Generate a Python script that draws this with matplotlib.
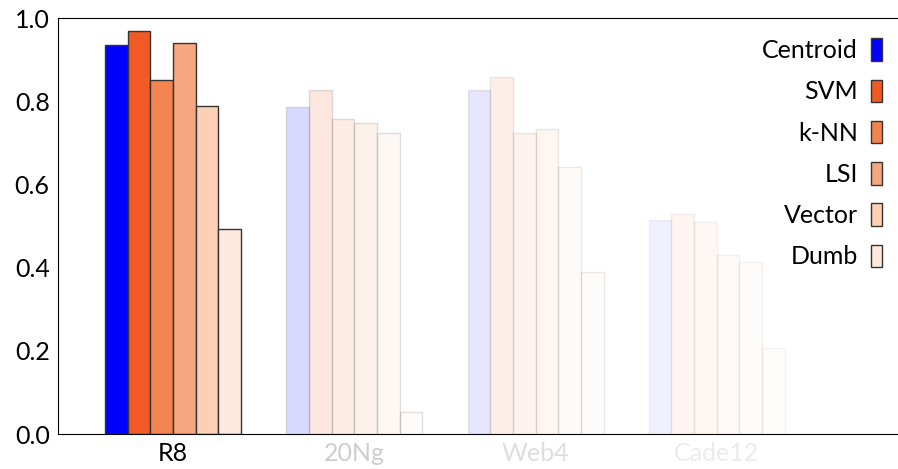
import numpy as np
import matplotlib
matplotlib.use('Agg')
import matplotlib.pyplot as plt

plt.rcParams['font.family'] = ['Lato', 'DejaVu Sans']

datasets = ['R8', '20Ng', 'Web4', 'Cade12']
methods = ['Centroid', 'SVM', 'k-NN', 'LSI', 'Vector', 'Dumb']
centroid = [0.935, 0.787, 0.826, 0.514]
svm = [0.969, 0.828, 0.857, 0.528]
knn = [0.851, 0.758, 0.724, 0.510]
lsi = [0.940, 0.748, 0.734, 0.431]
vector = [0.788, 0.723, 0.643, 0.413]
dumb = [0.494, 0.052, 0.389, 0.207]
colors = ['#0000ff', '#f15a24', '#f4844f', '#f6a77f', '#fdd0b6', '#feeadc']
group_alpha = [1.0, 0.15, 0.1, 0.06]

values = [centroid, svm, knn, lsi, vector, dumb]

fig = plt.figure(figsize=(8.98, 4.69), dpi=100)
ax = fig.add_axes([0.0646, 0.0746, 0.9354, 0.887])

w = 0.125
x = np.arange(len(datasets))
for i, (name, vals, c) in enumerate(zip(methods, values, colors)):
    pos = x + (i - 2.5) * w
    for j in range(len(datasets)):
        ax.bar(pos[j], vals[j], w, color=c, edgecolor='#333333', linewidth=1.0,
               alpha=group_alpha[j], label=name if j == 0 else None)

ax.set_xlim(-0.635, 4.0)
ax.set_ylim(0, 1.0)
ax.set_xticks(x)
ax.set_xticklabels(datasets, fontsize=18)
for lbl, a in zip(ax.get_xticklabels(), group_alpha):
    lbl.set_alpha(min(1.0, a * 1.3))
ax.set_yticks([0, 0.2, 0.4, 0.6, 0.8, 1.0])
ax.set_yticklabels(['0.0', '0.2', '0.4', '0.6', '0.8', '1.0'], fontsize=18)
ax.tick_params(length=0, pad=6)
ax.spines['right'].set_visible(False)

ax.legend(loc='upper right', frameon=False, markerfirst=False, fontsize=18,
          handlelength=0.45, handleheight=1.0, handletextpad=0.5,
          labelspacing=0.7, borderaxespad=0.25, bbox_to_anchor=(1.0, 0.99))

fig.savefig('out.png', dpi=100)
